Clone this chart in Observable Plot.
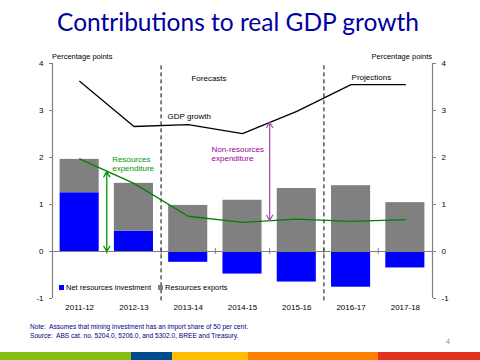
<!DOCTYPE html>
<html><head><meta charset="utf-8">
<script src="https://cdn.jsdelivr.net/npm/d3@7"></script>
<script src="https://cdn.jsdelivr.net/npm/@observablehq/plot@0.6"></script>
<style>
body{margin:0;background:#fff;font-family:"Liberation Sans",Arial,sans-serif;}
#wrap{position:relative;width:480px;height:360px;overflow:hidden;background:#fff;}
#chart{position:absolute;left:0;top:0;}
.abs{position:absolute;white-space:nowrap;line-height:1;}
#title{left:0;top:10px;width:476px;text-align:center;font-family:Lato,"Open Sans",sans-serif;font-size:24.5px;color:#0000A0;}
.pp{top:53px;font-size:7.5px;color:#000;}
.note{left:30px;font-size:6.6px;color:#000080;}
.sw{display:inline-block;width:5px;height:5px;margin-right:2px;vertical-align:0px;}
#band{position:absolute;left:0;top:352px;width:480px;height:8px;display:flex;}
</style></head><body><div id="wrap">
<div id="chart"></div>
<div class="abs" id="title">Contributions to real GDP growth</div>
<div class="abs pp" style="left:52px">Percentage points</div>
<div class="abs pp" style="right:48px">Percentage points</div>
<div class="abs" style="left:59px;top:284px;font-size:7.5px;"><span class="sw" style="background:#0000FF"></span>Net resources investment<span class="sw" style="background:#808080;margin-left:7px"></span>Resources exports</div>
<div class="abs note" style="top:324px">Note:&nbsp; Assumes that mining investment has an import share of 50 per cent.</div>
<div class="abs note" style="top:333px">Source:&nbsp; ABS cat. no. 5204.0, 5206.0, and 5302.0, BREE and Treasury.</div>
<div class="abs" style="left:446px;top:338px;font-size:7px;color:#8080C0">4</div>
<div id="band"></div>
</div>
<script>
const categories = ["2011-12","2012-13","2013-14","2014-15","2015-16","2016-17","2017-18"];
const netInvestment = [1.25, 0.43, -0.23, -0.48, -0.65, -0.76, -0.35];
const resourcesExports = [0.71, 1.02, 0.98, 1.09, 1.34, 1.40, 1.04];
const resourcesExpenditure = [1.97, 1.45, 0.75, 0.62, 0.69, 0.64, 0.68];
const gdpGrowth = [3.62, 2.66, 2.70, 2.51, 2.98, 3.55, 3.55];
const yTicks = [-1, 0, 1, 2, 3, 4];
const forecastBreaks = [1.5, 4.5];
const greenArrow = [{x: 0.5, from: 0, to: 1.70}];
const purpleArrow = [{x: 3.5, from: 0.66, to: 2.75}];
const labels = [
  {x: 2.06, y: 3.70, text: "Forecasts", color: "#000", weight: "normal"},
  {x: 5.01, y: 3.72, text: "Projections", color: "#000", weight: "normal"},
  {x: 1.62, y: 2.89, text: "GDP growth", color: "#000", weight: "bold"},
  {x: 0.60, y: 1.87, text: "Resources\nexpenditure", color: "#009900", weight: "bold"},
  {x: 2.43, y: 2.08, text: "Non-resources\nexpenditure", color: "#990099", weight: "normal"}
];
const bandColors = ["#86BE14","#004C8C","#FFBE00","#FF8000","#E5321E"];
const bandWidths = [131, 41, 76, 130, 102];

const rows = categories.map((c, i) => ({
  i, c, inv: netInvestment[i], exp: resourcesExports[i],
  res: resourcesExpenditure[i], gdp: gdpGrowth[i]
}));
const idx = categories.map((_, i) => i);
const bounds = categories.slice(1).map((_, i) => i + 0.5);
const half = 0.36;

const chart = Plot.plot({
  width: 480, height: 360,
  marginLeft: 52, marginRight: 48, marginTop: 63, marginBottom: 62,
  style: {fontFamily: "'Liberation Sans', Arial, sans-serif", background: "transparent"},
  x: {type: "linear", domain: [-0.5, 6.5]},
  y: {domain: [-1, 4]},
  marks: [
    Plot.rect(rows, {x1: d => d.i - half, x2: d => d.i + half, y1: 0, y2: "inv", fill: "#0000FF"}),
    Plot.rect(rows, {x1: d => d.i - half, x2: d => d.i + half,
      y1: d => Math.max(d.inv, 0), y2: d => Math.max(d.inv, 0) + d.exp, fill: "#808080"}),
    Plot.ruleY([0], {stroke: "#808080", strokeWidth: 1.2}),
    Plot.ruleX(bounds, {x: d => d, y1: 0, y2: 0, insetTop: -3, insetBottom: -3, stroke: "#808080"}),
    Plot.ruleX([-0.5, 6.5], {y1: -1, y2: 4, stroke: "#808080", strokeWidth: 1.2}),
    Plot.ruleX(forecastBreaks, {y1: -1.05, y2: 3.95, stroke: "#000", strokeDasharray: "4,3", strokeWidth: 1}),
    Plot.line(rows, {x: "i", y: "res", stroke: "#008000", strokeWidth: 1.3}),
    Plot.line(rows, {x: "i", y: "gdp", stroke: "#000", strokeWidth: 1.3}),
    Plot.arrow(greenArrow, {x1: "x", x2: "x", y1: d => (d.from + d.to) / 2, y2: "to", stroke: "#009900", strokeWidth: 1.3, headLength: 7}),
    Plot.arrow(greenArrow, {x1: "x", x2: "x", y1: d => (d.from + d.to) / 2, y2: "from", stroke: "#009900", strokeWidth: 1.3, headLength: 7}),
    Plot.arrow(purpleArrow, {x1: "x", x2: "x", y1: d => (d.from + d.to) / 2, y2: "to", stroke: "#B050B0", strokeWidth: 1.3, headLength: 7}),
    Plot.arrow(purpleArrow, {x1: "x", x2: "x", y1: d => (d.from + d.to) / 2, y2: "from", stroke: "#B050B0", strokeWidth: 1.3, headLength: 7}),
    Plot.text(labels, {x: "x", y: "y", text: "text", fill: d => d.color, fontWeight: d => d.weight,
      textAnchor: "start", fontSize: 8, lineHeight: 1.15}),
    Plot.axisY({anchor: "left", ticks: yTicks, tickFormat: d => String(d), tickSize: 3, tickPadding: 6, fontSize: 8, stroke: "#808080", fill: "#000", label: null}),
    Plot.axisY({anchor: "right", ticks: yTicks, tickFormat: d => String(d), tickSize: 3, tickPadding: 6, fontSize: 8, stroke: "#808080", fill: "#000", label: null}),
    Plot.axisX({ticks: idx, tickFormat: i => categories[i], tickSize: 0, tickPadding: 6, fontSize: 8, fill: "#000", label: null})
  ]
});
document.getElementById("chart").appendChild(chart);
const band = document.getElementById("band");
bandColors.forEach((c, i) => {
  const d = document.createElement("div");
  d.style.width = bandWidths[i] + "px"; d.style.height = "8px"; d.style.background = c;
  band.appendChild(d);
});
</script>
</body></html>
